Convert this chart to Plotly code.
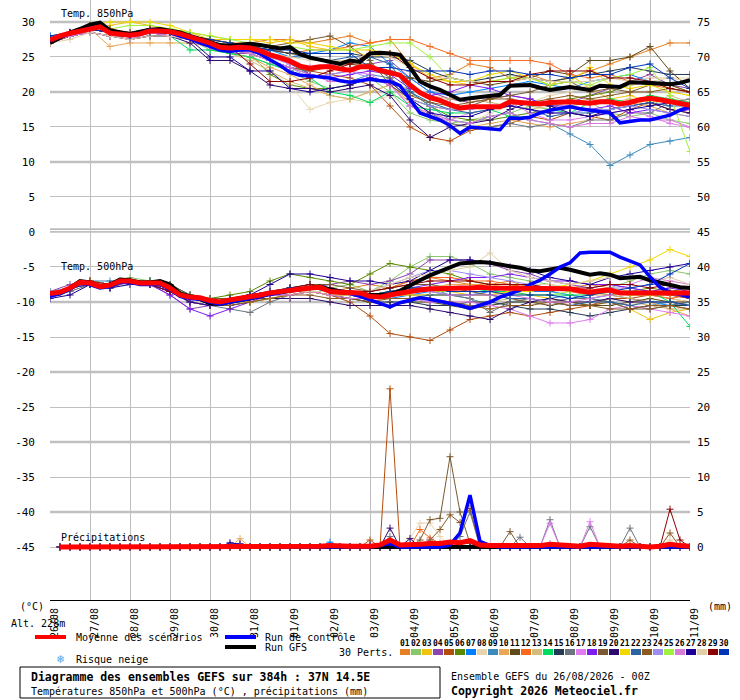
#!/usr/bin/env python3
"""
GEFS ensemble diagram (meteociel style) rebuilt with Plotly.
T850, T500 and precipitation share one time axis; precipitation uses the right axis.
"""

from datetime import datetime, timedelta
import plotly.graph_objects as go

# ---------------------------------------------------------------- data
DATE_LABELS = ["26/08", "27/08", "28/08", "29/08", "30/08", "31/08", "01/09", "02/09",
               "03/09", "04/09", "05/09", "06/09", "07/09", "08/09", "09/09", "10/09", "11/09"]

MEMBER_COLORS = ["#e67e22", "#88c86a", "#f1c40f", "#8e44ad", "#b34d0c", "#5b8a00",
                 "#0080ff", "#e8d5b0", "#3d8bbd", "#e8a856", "#604a1a", "#f76a1e",
                 "#d2bd7a", "#00dd60", "#243b53", "#6c757d", "#e07cf0", "#7f1cf0",
                 "#7a5a30", "#2d0a6e", "#f0d800", "#2a63a0", "#8b5a20", "#9d8ef0",
                 "#a0f040", "#d87ad8", "#1e0096", "#e0cfa8", "#8b0000", "#0035b5"]

# 6-hourly (00h .. 384h)
T850_MEAN = [27.4, 28.0, 28.4, 28.7, 29.1, 29.3, 28.4, 28.3, 28.1, 28.3,
             28.7, 28.7, 28.6, 28.3, 27.9, 27.4, 27.0, 26.4, 26.3, 26.4,
             26.3, 25.9, 25.3, 24.9, 24.4, 23.7, 23.4, 23.6, 23.6, 23.3,
             23.1, 23.6, 23.6, 23.1, 22.8, 22.4, 21.0, 19.9, 19.2, 18.8,
             18.2, 17.7, 17.9, 17.9, 17.9, 17.9, 18.6, 18.5, 18.4, 18.3,
             18.5, 18.6, 18.6, 18.5, 18.4, 18.6, 18.6, 18.3, 18.5, 18.9,
             19.1, 18.9, 18.6, 18.4, 18.1]
T850_GFS = [27.0, 27.8, 28.5, 29.0, 29.6, 29.9, 28.8, 28.5, 28.3, 28.6,
            28.9, 29.0, 28.8, 28.5, 28.0, 27.6, 27.2, 26.7, 26.6, 26.8,
            26.9, 26.7, 26.4, 26.2, 26.4, 25.4, 24.9, 24.6, 24.3, 24.0,
            24.5, 24.3, 25.5, 25.6, 25.5, 25.3, 23.5, 21.5, 20.8, 20.3,
            19.6, 18.9, 19.1, 19.3, 19.5, 19.6, 20.9, 21.0, 21.0, 20.6,
            20.3, 20.5, 20.7, 20.5, 20.3, 20.9, 20.8, 20.7, 21.4, 21.4,
            21.3, 21.2, 21.1, 21.3, 21.7]
T850_CTRL = [27.3, 27.9, 28.3, 28.7, 29.1, 29.3, 28.4, 28.2, 28.0, 28.4,
             28.8, 28.6, 28.5, 28.0, 27.6, 27.0, 26.5, 26.0, 25.8, 26.0,
             26.0, 25.5, 24.6, 23.8, 22.8, 22.4, 22.3, 22.2, 22.0, 21.6,
             21.4, 21.6, 21.8, 21.6, 21.5, 20.9, 19.0, 17.0, 16.5, 16.0,
             15.2, 14.1, 15.0, 14.9, 14.8, 14.6, 16.3, 16.2, 16.4, 17.0,
             17.4, 17.7, 17.9, 17.6, 17.4, 17.2, 17.0, 15.6, 15.8, 16.0,
             16.0, 16.3, 16.7, 17.4, 17.9]

T500_MEAN = [-8.8, -8.6, -8.0, -7.2, -7.3, -7.8, -7.6, -7.0, -7.0, -7.3,
             -7.3, -7.3, -8.0, -9.0, -9.3, -9.4, -9.8, -10.0, -9.7, -9.5,
             -9.3, -9.0, -8.7, -8.5, -8.3, -8.1, -8.0, -7.9, -8.5, -8.6,
             -8.6, -8.7, -9.2, -9.3, -9.0, -8.7, -8.5, -8.3, -8.1, -8.1,
             -8.0, -8.0, -8.0, -7.9, -8.0, -8.0, -8.0, -8.0, -8.0, -8.0,
             -8.0, -8.0, -8.1, -8.4, -8.6, -8.4, -8.3, -8.7, -8.7, -8.7,
             -8.7, -8.7, -8.7, -8.7, -8.7]
T500_GFS = [-9.0, -8.8, -8.0, -7.0, -7.2, -7.8, -7.5, -6.8, -6.9, -7.2,
            -7.2, -7.0, -7.5, -8.8, -9.2, -9.6, -10.2, -10.3, -10.0, -9.8,
            -9.5, -9.2, -8.8, -8.6, -8.4, -8.2, -8.0, -7.8, -8.2, -8.5,
            -8.6, -8.8, -9.0, -9.0, -8.9, -8.4, -7.6, -6.9, -6.2, -5.6,
            -5.0, -4.5, -4.4, -4.3, -4.4, -4.7, -4.9, -5.1, -5.5, -5.6,
            -5.3, -5.1, -5.4, -5.8, -6.1, -5.9, -6.1, -6.6, -6.5, -6.4,
            -6.9, -7.2, -7.6, -7.9, -8.0]
T500_CTRL = [-9.2, -8.8, -8.2, -7.3, -7.5, -8.0, -7.8, -7.2, -7.2, -7.5,
             -7.5, -7.5, -8.2, -9.2, -9.5, -9.6, -10.0, -10.3, -10.0, -9.8,
             -9.5, -9.2, -8.9, -8.6, -8.4, -8.2, -8.0, -7.8, -8.5, -8.7,
             -8.8, -9.2, -9.7, -10.2, -10.7, -10.1, -9.8, -9.4, -9.6, -9.9,
             -10.1, -10.5, -10.9, -10.4, -10.0, -9.3, -8.8, -8.3, -7.5, -6.9,
             -6.0, -5.0, -4.4, -3.0, -2.9, -2.9, -2.9, -3.6, -4.2, -4.7,
             -6.4, -7.9, -8.6, -9.0, -9.3]

# 12-hourly perturbations (00h .. 384h), one row per member 01..30
T850_PERTS = [
    [27, 28, 29, 28.5, 28, 29, 28.5, 28, 27.5, 27, 27, 27.5, 27.5, 27, 27.5, 28, 27, 27.5, 24, 22, 22.5, 24, 23.5, 22, 22.5, 21.5, 22, 23, 24, 25, 26, 27, 27],
    [27.5, 28.5, 29, 28.5, 28, 28.5, 28.5, 27.5, 26, 25.5, 25, 24, 23, 21.5, 20.5, 21, 22, 20, 17, 16, 15.5, 16, 16.5, 17, 18, 17.5, 18, 18.5, 17, 16.5, 17, 16, 15.5],
    [27, 28.5, 29.5, 29.5, 30, 29.5, 29, 28.5, 27.5, 27.5, 27.5, 27, 27.5, 26.5, 26, 26, 25, 25.5, 24, 22, 21.5, 21, 21.5, 22, 22, 21, 22.5, 20.5, 19, 19.5, 18.5, 19, 18.5],
    [27.5, 28, 28.5, 28, 27.5, 28.5, 28.5, 27.5, 26.5, 25.5, 25.5, 24.5, 23, 22, 22.5, 23, 24, 24.5, 22, 20, 19, 18.5, 19, 19.5, 19, 18, 18.5, 19.5, 20.5, 21.5, 22.5, 21, 20.5],
    [27, 28, 28.5, 28, 28, 28.5, 28, 27.5, 27, 26.5, 26, 24.5, 23.5, 23, 22.5, 22, 21, 18, 15, 13.5, 13, 14.5, 15, 15.5, 16.5, 16, 17, 16.5, 16, 17.5, 18.5, 17.5, 17],
    [27.5, 28.5, 29, 28.5, 28, 28.5, 28, 27.5, 26.5, 26, 25.5, 22.5, 21, 20.5, 20.5, 21, 22, 21.5, 20, 18, 16.5, 16, 16, 16.5, 17, 17.5, 19, 19.5, 20, 21, 21.5, 21, 20],
    [28, 28.5, 29, 28.5, 28, 28.5, 28.5, 28, 27, 26.5, 26.5, 26, 25, 25.5, 26, 27, 26.5, 24, 22, 20, 19.5, 20, 20.5, 21, 21.5, 21, 20.5, 21.5, 22, 22.5, 21.5, 21, 21.5],
    [27, 28, 28.5, 28, 27.5, 28, 28, 27.5, 26.5, 25.5, 25, 23, 21, 17.5, 18.5, 19, 18.5, 19.5, 19, 17, 16, 15.5, 17, 18, 18.5, 19.5, 20, 21, 20.5, 21, 21.5, 22, 22],
    [27.5, 28, 29, 28.5, 28, 28.5, 28.5, 27.5, 27, 26, 26, 25, 24, 22.5, 22, 21.5, 22.5, 22, 20, 18, 16, 15.5, 16.5, 17, 16, 15.5, 14, 12.5, 9.5, 11, 12.5, 13, 13.5],
    [27, 28, 29, 26.5, 27, 27, 27, 27, 26.5, 25.5, 25, 23.5, 22.5, 21, 19.5, 19, 20, 21, 18.5, 16.5, 15.5, 15, 15.5, 16, 15.5, 15, 15.5, 16, 17.5, 18.5, 18, 17, 16.5],
    [27, 28, 29, 28.5, 28, 29, 28.5, 28, 27.5, 27, 26.5, 26, 25.5, 25, 24.5, 24, 23.5, 23, 22, 21.5, 22, 21.5, 21, 21.5, 22, 23, 22.5, 24.5, 24.5, 25, 26.5, 23, 20.5],
    [27.5, 28.5, 29, 28.5, 28, 28.5, 28, 28, 27.5, 27, 26.5, 26, 25.5, 26, 26, 26.5, 27, 27.5, 27.5, 26.5, 25.5, 24.5, 24.5, 24.5, 24.5, 24, 22.5, 22, 22.5, 21.5, 21, 20.5, 20],
    [27, 28, 28.5, 28, 28, 28.5, 28, 27.5, 26.5, 25.5, 24.5, 23, 21.5, 20.5, 19.5, 19, 20, 21, 20.5, 19.5, 19, 19, 18.5, 18, 17.5, 18, 18.5, 19, 18.5, 19, 18, 19.5, 18.5],
    [27.5, 28.5, 29, 28.5, 28, 28.5, 28, 26, 26, 25.5, 25, 24, 23, 22, 20, 19.5, 18.5, 20, 18, 17.5, 17, 17, 17.5, 16.5, 16.5, 17.5, 17, 18.5, 19, 18.5, 19.5, 19, 18.5],
    [27.5, 28.5, 29, 28.5, 28, 28.5, 28.5, 28, 27, 26.5, 26.5, 26, 25.5, 25.5, 25.5, 25.5, 25, 25, 24.5, 23, 22, 21.5, 22, 22.5, 22, 21.5, 22, 22.5, 23, 23.5, 23, 22.5, 22.5],
    [27, 28, 28.5, 28, 27.5, 28, 28, 27.5, 26.5, 26, 25.5, 24.5, 23.5, 22.5, 22, 21.5, 22, 21, 19, 17, 15.5, 15, 15, 15.5, 15, 15.5, 15, 16, 16, 17, 17, 18.5, 19],
    [27.5, 28, 28.5, 28, 28, 28.5, 28, 27.5, 26.5, 26, 26, 25, 24, 23.5, 24, 23, 22.5, 21, 18, 16.5, 16, 17, 17.5, 18.5, 17, 16, 16, 16.5, 17, 17.5, 16.5, 15.5, 15],
    [27.5, 28.5, 29, 28.5, 28, 28.5, 28.5, 28, 27, 26.5, 26, 25.5, 24.5, 22.5, 22, 22.5, 23, 22.5, 20.5, 19.5, 20, 21, 20.5, 19.5, 19, 18, 18, 17.5, 18, 17, 17.5, 17, 17.5],
    [27, 28, 29, 28.5, 28, 28.5, 28.5, 28, 27.5, 27, 26.5, 26.5, 27, 27.5, 28, 26.5, 24.5, 21, 19, 18, 17.5, 18, 19, 19.5, 20, 21, 21.5, 20, 20.5, 20, 21, 21, 20],
    [27, 28, 28.5, 28, 27.5, 28, 28, 27, 24.5, 24.5, 23, 21, 20.5, 20.5, 20, 20.5, 21, 19.5, 16, 13.5, 15, 15.5, 16, 17.5, 18.5, 18, 17, 16.5, 17.5, 18, 18.5, 17.5, 17],
    [27.5, 28.5, 29.5, 30, 30, 30, 29.5, 28.5, 28, 27.5, 27.5, 27.5, 27, 27, 26.5, 26, 26, 25.5, 24, 22.5, 21.5, 21.5, 22.5, 23, 22, 21, 21.5, 23.5, 21, 20.5, 21, 20, 19.5],
    [27.5, 28.5, 29, 28.5, 28, 28.5, 28.5, 27.5, 27, 26.5, 26.5, 25.5, 25, 25, 24.5, 25, 25, 24, 20, 18.5, 17.5, 17, 17.5, 18, 17.5, 16.5, 17, 17, 17.5, 18, 18.5, 18, 18],
    [27, 28, 28.5, 28, 28, 28.5, 28, 27.5, 26.5, 26, 25.5, 24.5, 23.5, 23, 23.5, 24, 24, 22, 19.5, 18.5, 18, 18.5, 19, 19, 18.5, 19, 19.5, 19, 19.5, 20, 20, 20.5, 20],
    [27.5, 28, 28.5, 28, 28, 28.5, 28, 27.5, 26.5, 26, 25.5, 24.5, 23.5, 22, 22.5, 23, 22, 21.5, 19, 18, 17.5, 17.5, 18, 18, 17.5, 17, 17, 17.5, 17.5, 18, 17.5, 17, 16.5],
    [27, 28.5, 29, 29, 29.5, 29.5, 29, 28.5, 28, 27.5, 27, 26.5, 26.5, 26, 26, 26, 26.5, 27, 27, 25, 22, 21.5, 21.5, 22, 22, 21, 21.5, 21, 22, 22.5, 23.5, 19.5, 11.5],
    [27, 28, 28.5, 28, 27.5, 28.5, 28, 27.5, 26.5, 26, 25.5, 24.5, 23.5, 22.5, 21.5, 21.5, 22, 21, 18, 17, 16, 15.5, 16.5, 17, 16, 15.5, 15, 15.5, 15.5, 16.5, 16, 16, 15],
    [27.5, 28.5, 29, 28.5, 28, 28.5, 28.5, 27.5, 25, 25, 23, 23, 20.5, 20, 20.5, 21, 22, 21.5, 19, 17, 16.5, 16.5, 17.5, 18, 17.5, 17, 17, 16.5, 17, 17.5, 18, 18.5, 18],
    [27, 27.5, 28.5, 28, 27.5, 28, 28, 27.5, 27, 26.5, 26, 25.5, 25, 24.5, 24.5, 24.5, 25.5, 25, 23.5, 22, 22, 21.5, 21.5, 21.5, 22, 21.5, 21.5, 21.5, 22, 21.5, 22, 22, 21.5],
    [27.5, 28.5, 29.5, 29, 28.5, 29, 28.5, 27.5, 27, 26.5, 24, 21.5, 21.5, 22, 23, 24, 25.5, 25.5, 23.5, 22, 21, 21, 21.5, 21.5, 22.5, 23, 23, 23, 22, 22, 21.5, 20.5, 20],
    [28, 28.5, 29, 28.5, 28, 28.5, 28.5, 28, 27.5, 27, 26.5, 26, 26, 25.5, 25.5, 25.5, 23.5, 23.5, 23, 23, 23, 22.5, 23, 23, 22.5, 22.5, 22, 22.5, 22.5, 23.5, 24, 22, 20.5],
]

T500_PERTS = [
    [-9, -8, -7, -7.5, -7, -7, -8, -9, -10, -9.5, -9, -8.5, -8, -8, -8.5, -8, -7.5, -8, -7, -6.5, -7, -7.5, -7.5, -7, -8, -8.5, -8, -7.5, -8, -8.5, -9, -9.5, -10],
    [-9, -8, -7, -7.5, -6.5, -7, -7.5, -9, -10, -10, -9.5, -9, -8.5, -8, -8, -7.5, -8.5, -7, -5, -3.5, -3.5, -4.5, -6, -6.5, -7, -7.5, -8, -8.5, -8, -7, -6, -5.5, -6],
    [-8.5, -8, -7, -7.5, -7, -7.5, -8, -9.5, -10, -10, -9.5, -9, -9, -8.5, -9, -9, -9.5, -9, -8.5, -8.5, -8.5, -9, -9, -8.5, -9, -9.5, -10, -10.5, -10, -11, -12.5, -11.5, -11],
    [-8.5, -7.5, -7, -8, -7, -7.5, -9, -11, -10.5, -10, -9.5, -9, -8.5, -8, -7.5, -7, -7.5, -7, -6, -4, -4, -4, -4.5, -5.5, -6, -7, -7.5, -8, -7.5, -8, -8.5, -9, -9.5],
    [-9, -8, -7.5, -8, -7, -7.5, -8.5, -9.5, -10, -10, -9.5, -9, -8.5, -8.5, -9, -10, -12, -14.5, -15, -15.5, -14, -12.5, -12, -11.5, -12, -11.5, -11, -10.5, -9.5, -9.5, -9, -9, -9.5],
    [-9, -8, -7, -7.5, -7, -7.5, -8, -9, -9.5, -9, -8.5, -7, -6, -6.5, -7, -7.5, -6, -4.5, -5, -5.5, -6, -7, -7.5, -7.5, -8, -8.5, -8, -8.5, -9, -8.5, -8, -8.5, -8],
    [-9, -8, -7.5, -7.5, -7, -7, -8, -9.5, -10, -9.5, -9, -8.5, -8, -7.5, -8, -8.5, -9, -9.5, -9, -8.5, -9, -9, -8.5, -8, -8.5, -8.5, -9, -9.5, -9, -9.5, -10, -10.5, -10],
    [-9, -8.5, -7.5, -8, -7.5, -7.5, -8.5, -10, -10, -10, -9.5, -9, -9, -8.5, -8.5, -8.5, -9, -8.5, -8, -8, -7.5, -7.5, -7.5, -7.5, -7.5, -7.5, -8, -8.5, -8, -8.5, -9, -9.5, -10],
    [-8.5, -8, -7, -7, -7, -7, -7.5, -9, -9.5, -9.5, -9, -8.5, -8.5, -8, -8.5, -8.5, -9.5, -9, -8.5, -8, -9, -9.5, -10.5, -10, -10, -9.5, -9, -9.5, -10, -11, -10.5, -10, -10.5],
    [-9, -8, -7, -7.5, -7, -7.5, -8, -9.5, -10, -9.5, -9, -8.5, -8.5, -8.5, -9, -9, -9, -8.5, -8, -8, -7.5, -7.5, -7.5, -8, -8, -8, -8.5, -9, -9, -9.5, -10, -11, -12],
    [-9, -8, -7.5, -7.5, -7, -7.5, -8.5, -10, -10.5, -10, -9.5, -9.5, -9, -8.5, -9, -9.5, -10, -10.5, -10, -10, -10.5, -11, -10.5, -10, -10, -10.5, -10, -10.5, -10.5, -10, -9.5, -10, -10],
    [-9, -8, -7, -7.5, -7, -7.5, -8, -9.5, -10, -9.5, -9, -8.5, -8, -8, -8.5, -8.5, -8.5, -8, -7, -6.5, -6.5, -7, -7, -7.5, -8, -8, -8.5, -9, -8.5, -9, -9, -9.5, -9],
    [-9, -8, -7.5, -7.5, -7, -7.5, -8.5, -9.5, -10, -10, -9.5, -9, -8.5, -8.5, -9, -9, -9.5, -9, -9, -9.5, -10, -10, -10, -9.5, -9.5, -10, -10, -10, -9.5, -10, -10.5, -11, -11],
    [-8.5, -8, -7, -7.5, -7, -7, -8, -9.5, -10, -10, -9.5, -9, -8.5, -8, -8.5, -9, -9, -8.5, -8, -8, -8, -8, -8.5, -8.5, -9, -9, -9, -9, -8.5, -8.5, -8.5, -10, -13.5],
    [-9, -8, -7.5, -7.5, -7, -7.5, -8, -9.5, -10, -10, -9.5, -9, -9, -8.5, -9, -9.5, -10, -10, -10, -10.5, -10.5, -10, -10, -10.5, -11, -11, -11.5, -12, -11.5, -11, -10.5, -10.5, -10.5],
    [-9, -8.5, -7.5, -8, -7, -7.5, -8.5, -10, -10.5, -11, -11.5, -10, -9, -8.5, -9, -9, -9.5, -9, -9, -9, -9, -9.5, -11.5, -10, -9.5, -10, -9.5, -9.5, -10, -10.5, -11, -10.5, -10],
    [-8.5, -8, -7, -7.5, -7, -7.5, -8, -9.5, -10, -10, -9.5, -9, -9, -8.5, -9, -9, -9.5, -9.5, -9.5, -10, -10, -10, -10.5, -11, -12, -13, -13, -12.5, -11, -10.5, -11, -11.5, -12],
    [-9, -8, -7, -7.5, -7, -7.5, -9, -11, -12, -11, -10, -9, -8.5, -8, -8.5, -8.5, -9, -8.5, -8, -7.5, -7, -6.5, -6.5, -6, -6.5, -7, -7, -7.5, -7.5, -8, -8.5, -8, -8.5],
    [-9, -8, -7, -7.5, -7, -7, -7.5, -9, -9.5, -9.5, -9, -8.5, -8, -7.5, -7.5, -8, -8.5, -8, -7.5, -7.5, -8, -8.5, -9, -9.5, -10, -10, -10, -10.5, -10, -11, -11, -10.5, -11],
    [-9, -8, -7, -7.5, -7, -7.5, -8.5, -10, -10.5, -10.5, -10, -9.5, -9.5, -9.5, -10, -10.5, -10.5, -10.5, -10.5, -11, -11.5, -12, -12.5, -11, -10, -9.5, -10, -10, -9.5, -10, -10, -10, -10.5],
    [-9, -8, -7, -7.5, -7, -7.5, -8, -9.5, -10, -10, -10, -9.5, -9, -8.5, -9, -9, -9.5, -9, -9, -9, -9, -9, -9, -8.5, -8.5, -8, -7.5, -7, -6, -5, -4, -2.5, -3.5],
    [-9, -8, -7.5, -7.5, -7, -7.5, -8, -9.5, -10, -10, -9.5, -9, -8.5, -8.5, -8.5, -9, -9.5, -9.5, -9.5, -9, -9, -9, -9, -9.5, -9.5, -10, -10.5, -10, -10, -10.5, -10, -10, -10.5],
    [-9, -8, -7, -7.5, -7, -7.5, -8.5, -10, -10.5, -10.5, -10, -9.5, -9, -9, -9.5, -9.5, -10, -9.5, -9.5, -9.5, -10, -10.5, -11, -10.5, -10.5, -10, -10.5, -10.5, -11, -11, -10.5, -10.5, -11],
    [-9, -8, -7, -7.5, -7, -7.5, -8, -9.5, -10, -10, -9.5, -9, -8.5, -8, -8, -8.5, -8.5, -7.5, -6.5, -5.5, -5.5, -6, -6.5, -7, -7.5, -8, -8, -8.5, -8, -8, -7.5, -7.5, -8],
    [-9, -8, -7, -7.5, -7, -7.5, -8, -9.5, -10, -10, -9.5, -9, -8.5, -8, -8.5, -9, -9, -8.5, -8, -8.5, -8.5, -8.5, -8.5, -9, -9, -9, -8.5, -8.5, -8.5, -9, -9, -8.5, -9],
    [-9, -8, -7.5, -7.5, -7, -7.5, -8.5, -10, -10.5, -10, -9.5, -9, -9, -8.5, -9, -9.5, -9.5, -9, -8.5, -8.5, -9, -9, -9, -9, -9.5, -10, -10, -9.5, -9, -7.5, -6.5, -7, -7.5],
    [-9.5, -9, -7.5, -8, -7.5, -7.5, -8.5, -10, -10.5, -10, -9, -7.5, -6, -6, -6.5, -7, -7, -7.5, -7, -5.5, -4, -4, -4.5, -5, -5.5, -6.5, -7, -7.5, -6.5, -6, -5.5, -5, -4.5],
    [-9, -8, -7, -7.5, -7, -7.5, -8, -9.5, -10, -10, -9.5, -9, -8.5, -8.5, -8.5, -9, -8.5, -7.5, -6.5, -6, -5.5, -5, -3, -5.5, -6.5, -7, -7.5, -7, -6.5, -6.5, -7, -6.5, -7.5],
    [-9, -8, -7, -7.5, -7, -7.5, -8.5, -9.5, -10, -10, -9.5, -9, -8, -7.5, -8, -8.5, -8.5, -8, -7.5, -7, -7, -7, -7.5, -7.5, -7.5, -8, -8, -8, -7.5, -7.5, -8, -7.5, -8],
    [-9, -8, -7.5, -7.5, -7, -7.5, -8, -9.5, -10, -9.5, -9, -8.5, -8, -8, -8.5, -8.5, -9, -8.5, -8, -8, -8.5, -8.5, -8.5, -9, -9, -9, -9.5, -9, -8.5, -8, -7.5, -6, -4.5],
]

# precipitation (mm / 6h), steps 06h .. 384h
RR_MEAN = [0, 0, 0, 0, 0, 0, 0, 0, 0, 0,
           0, 0, 0, 0, 0, 0, 0, 0.1, 0.1, 0,
           0, 0, 0, 0, 0, 0.1, 0.1, 0.2, 0.1, 0.1,
           0.1, 0.1, 0.3, 1.0, 0.3, 0.3, 0.4, 0.5, 0.5, 0.7,
           0.6, 0.9, 0.3, 0.2, 0.2, 0.2, 0.2, 0.1, 0.2, 0.4,
           0.3, 0.2, 0.1, 0.4, 0.3, 0.1, 0.1, 0.2, 0.1, 0,
           0.1, 0.4, 0.2, 0.1]
RR_CTRL = [0, 0, 0, 0, 0, 0, 0, 0, 0, 0,
           0, 0, 0, 0, 0, 0, 0, 0, 0, 0,
           0, 0, 0, 0, 0, 0, 0, 0, 0, 0,
           0, 0, 0.2, 0.5, 0, 0, 0, 0, 0, 0.3,
           2.0, 7.4, 0.8, 0.2, 0, 0, 0, 0, 0, 0,
           0, 0, 0, 0, 0, 0, 0, 0, 0, 0,
           0, 0, 0, 0]
RR_GFS = [0, 0, 0, 0, 0, 0, 0, 0, 0, 0,
          0, 0, 0, 0, 0, 0, 0, 0, 0, 0,
          0, 0, 0, 0, 0, 0, 0, 0, 0, 0,
          0, 0, 0, 0.1, 0, 0, 0, 0, 0, 0,
          0, 0.1, 0, 0, 0, 0, 0, 0, 0, 0,
          0, 0, 0, 0, 0, 0, 0, 0, 0, 0,
          0, 0, 0, 0]
# (member, step number, mm) - every other perturbation step is dry
RR_PERT_EVENTS = [
    (4, 18, 0.4), (4, 19, 0.5), (27, 18, 0.6), (27, 19, 0.4), (10, 19, 1.2),
    (7, 28, 0.7), (5, 32, 1.0), (20, 32, 0.3),
    (5, 34, 22.6), (20, 34, 2.7), (20, 36, 1.2), (16, 34, 1.5),
    (8, 36, 1.3), (8, 37, 3.4), (8, 38, 3.4), (8, 39, 1.5),
    (12, 37, 2.5), (12, 38, 1.3), (12, 39, 0.5), (17, 38, 1.0),
    (19, 37, 1.0), (19, 38, 3.9), (19, 39, 4.1), (19, 40, 12.9), (19, 41, 5.0), (19, 42, 0.5),
    (23, 38, 1.0), (23, 39, 2.5), (23, 40, 4.6), (23, 41, 3.5), (23, 42, 5.5),
    (16, 41, 1.5), (16, 42, 5.0), (16, 47, 1.4), (16, 50, 3.9), (16, 54, 2.9), (16, 58, 2.7),
    (19, 46, 2.2), (17, 50, 3.4), (17, 54, 3.6), (26, 50, 0.5),
    (23, 58, 1.0), (23, 62, 2.0), (29, 62, 5.4), (29, 63, 1.0), (28, 62, 1.0),
]

# ---------------------------------------------------------------- helpers
T0 = datetime(2026, 8, 26)
X6 = [T0 + timedelta(hours=6 * i) for i in range(len(T850_MEAN))]
X12 = [T0 + timedelta(hours=12 * i) for i in range(len(T850_PERTS[0]))]
XRR = [T0 + timedelta(hours=6 * (i + 1)) for i in range(len(RR_MEAN))]
DAYS = [T0 + timedelta(days=i) for i in range(len(DATE_LABELS))]

FONT = "DejaVu Sans Mono"
GRID = "#c0c0c0"


def px(x):
    """pixel column -> paper x (plot spans 50..690)"""
    return (x - 50) / 640


def py(y):
    """pixel row -> paper y (plot spans 0..600)"""
    return (600 - y) / 600


fig = go.Figure()


def add_member(x, y, color, axis="y"):
    fig.add_trace(go.Scatter(
        x=x, y=y, yaxis=axis, mode="lines+markers",
        line=dict(color=color, width=1),
        marker=dict(symbol="cross-thin", size=5, line=dict(width=1, color=color)),
        hoverinfo="skip"))


# perturbations
for k, c in enumerate(MEMBER_COLORS):
    add_member(X12, T850_PERTS[k], c)
    add_member(X12, T500_PERTS[k], c)

rr_perts = [[0.0] * len(RR_MEAN) for _ in MEMBER_COLORS]
for member, step, mm in RR_PERT_EVENTS:
    rr_perts[member - 1][step - 1] = mm
for k, c in enumerate(MEMBER_COLORS):
    add_member(XRR, rr_perts[k], c, axis="y2")

# GFS, control, mean on top
for series, axis, xs in [(T850_GFS, "y", X6), (T500_GFS, "y", X6), (RR_GFS, "y2", XRR)]:
    fig.add_trace(go.Scatter(x=xs, y=series, yaxis=axis, mode="lines",
                             line=dict(color="black", width=4), hoverinfo="skip"))
for series, axis, xs in [(T850_CTRL, "y", X6), (T500_CTRL, "y", X6), (RR_CTRL, "y2", XRR)]:
    fig.add_trace(go.Scatter(x=xs, y=series, yaxis=axis, mode="lines",
                             line=dict(color="#0000ff", width=3.5), hoverinfo="skip"))
for series, axis, xs in [(T850_MEAN, "y", X6), (T500_MEAN, "y", X6), (RR_MEAN, "y2", XRR)]:
    fig.add_trace(go.Scatter(x=xs, y=series, yaxis=axis, mode="lines",
                             line=dict(color="#ff0000", width=5), hoverinfo="skip"))

# ---------------------------------------------------------------- axes
Y_RANGE = [-52.57, 33.14]
left_ticks = list(range(30, -50, -5))
right_ticks = list(range(0, 80, 5))

fig.update_layout(
    width=740, height=700,
    margin=dict(l=50, r=50, t=0, b=100, pad=0),
    paper_bgcolor="white", plot_bgcolor="white",
    showlegend=False, hovermode=False,
    font=dict(family=FONT, size=10, color="black"),
    xaxis=dict(
        range=[T0, DAYS[-1]], tickvals=DAYS, ticktext=DATE_LABELS,
        tickangle=-90, ticks="", ticklabelstandoff=3, ticklabelshift=5,
        tickfont=dict(family=FONT, size=10), automargin=False,
        showgrid=True, gridcolor=GRID, gridwidth=1,
        showline=True, linecolor="black", linewidth=1, zeroline=False,
    ),
    yaxis=dict(
        range=Y_RANGE, tickvals=left_ticks, ticktext=[str(v) for v in left_ticks],
        ticks="", ticklabelstandoff=14, tickfont=dict(family=FONT, size=11),
        automargin=False,
        showgrid=True, gridcolor=GRID, gridwidth=1, zeroline=False, showline=False,
    ),
    yaxis2=dict(
        range=[Y_RANGE[0] + 45, Y_RANGE[1] + 45], overlaying="y", side="right",
        tickvals=right_ticks, ticktext=[str(v) for v in right_ticks],
        ticks="", ticklabelstandoff=6, tickfont=dict(family=FONT, size=11),
        automargin=False,
        showgrid=False, zeroline=False, showline=False,
    ),
)

# heavier grid lines every 10, double line at 0 (panel separator)
for v in [30, 20, 10, -10, -20, -30, -40]:
    fig.add_shape(type="line", xref="paper", yref="y", x0=0, x1=1, y0=v, y1=v,
                  line=dict(color=GRID, width=2.5), layer="between")
for v in [0, 0.4]:
    fig.add_shape(type="line", xref="paper", yref="y", x0=0, x1=1, y0=v, y1=v,
                  line=dict(color="#a0a0a0", width=1.2), layer="between")

# ---------------------------------------------------------------- texts
def label(x, y, text, size=10, anchor="left", color="black", bold=False):
    if bold:
        text = "<b>" + text + "</b>"
    fig.add_annotation(xref="paper", yref="paper", x=px(x), y=py(y), text=text,
                       showarrow=False, xanchor=anchor, yanchor="middle",
                       font=dict(family=FONT, size=size, color=color))


label(59, 14, "Temp. 850hPa")
label(59, 266, "Temp. 500hPa")
label(59, 537, "Précipitations")
label(32, 606, "(°C)", anchor="center")
label(720, 606, "(mm)", anchor="center")
label(9, 623, "Alt. 228m")

# legend lines
for x0, x1, y, col in [(35, 66, 637, "#ff0000"), (225, 256, 637, "#0000ff"), (225, 256, 647, "black")]:
    fig.add_shape(type="line", xref="paper", yref="paper", x0=px(x0), x1=px(x1),
                  y0=py(y), y1=py(y), line=dict(color=col, width=4))
label(74, 637, "Moyenne des scénarios")
label(263, 637, "Run de contrôle")
label(263, 647, "Run GFS")
label(60, 659, "❄", size=12, anchor="center", color="#4da6e8")
label(74, 659, "Risque neige")
label(395, 652, "30 Perts.", anchor="right")

for k, c in enumerate(MEMBER_COLORS):
    x0 = 400 + 11 * k
    fig.add_shape(type="rect", xref="paper", yref="paper", x0=px(x0), x1=px(x0 + 10),
                  y0=py(655), y1=py(649), fillcolor=c, line=dict(width=0))
    label(x0 + 5, 643, "%02d" % (k + 1), size=8, anchor="center", bold=True)

# title box
fig.add_shape(type="rect", xref="paper", yref="paper", x0=px(20), x1=px(440),
              y0=py(698), y1=py(667), line=dict(color="black", width=1), fillcolor="white")
label(29, 677, "Diagramme des ensembles GEFS sur 384h : 37N 14.5E", size=11.5, bold=True)
label(29, 691, "Températures 850hPa et 500hPa (°C) , précipitations (mm)")
label(449, 676, "Ensemble GEFS du 26/08/2026 - 00Z")
label(449, 691, "Copyright 2026 Meteociel.fr", size=11.5, bold=True)

# the page body has a default 8px margin; drop it so the 740x700 figure fits the window
fig.write_html("out.html", config={"displayModeBar": False},
               post_script="document.body.style.margin='0';")
